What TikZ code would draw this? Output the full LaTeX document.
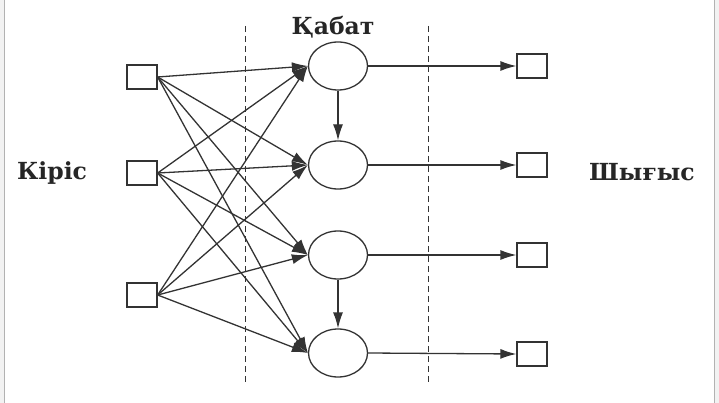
\documentclass[tikz,border=0pt]{standalone}
\usepackage{fontspec}
\setmainfont{DejaVu Serif}
\usetikzlibrary{arrows.meta,shapes.geometric,positioning}
\tikzset{%
	inbox/.style  = {draw, rectangle, minimum width=30pt, minimum height=24pt, inner sep=0pt},
	neuron/.style = {draw, ellipse, minimum width=59pt, minimum height=48pt, inner sep=0pt},
	arrow/.style  = {-{Latex[length=16pt,width=10pt]}},
	sep/.style    = {line width=0.9pt, dash pattern=on 6pt off 4pt},
	lbl/.style    = {font=\bfseries\fontsize{23.5}{23.5}\selectfont, inner sep=0pt, text=black!85},
}
\begin{document}
\begin{tikzpicture}[x=1pt,y=-1pt,line width=1.3pt,draw=black!80,color=black!80]
	\useasboundingbox (0,0) rectangle (719,403);
	% frame of the page
	\fill[black!5] (0,0) rectangle (4,403);
	\fill[black!5] (715,0) rectangle (719,403);
	\draw[black!30,line width=1pt] (4.5,0) -- (4.5,403);
	\draw[black!30,line width=1pt] (714.5,0) -- (714.5,403);
	
	\draw[sep] (245,26) -- (245,383);  % left border of layer
	\draw[sep] (428,26) -- (428,383);  % right border of layer
	
	\node[lbl] (kiris) at (52,173) {Кіріс};
	\node[lbl] (kabat) at (333,27) {Қабат};
	\node[lbl] (shygys) at (642,172) {Шығыс};
	
	% inputs
	\node[inbox] (i1) at (142,77) {};
	\node[inbox] (i2) at (142,173) {};
	\node[inbox] (i3) at (142,295) {};
	
	% hidden layer
	\node[neuron] (h1) at (338,66) {};
	\node[neuron] (h2) at (338,165) {};
	\node[neuron] (h3) at (338,255) {};
	\node[neuron] (h4) at (338,353) {};
	
	% outputs
	\node[inbox] (o1) at (532,66) {};
	\node[inbox] (o2) at (532,165) {};
	\node[inbox] (o3) at (532,255) {};
	\node[inbox] (o4) at (532,354) {};
	
	\foreach \i in {1,2,3}
		\foreach \h in {1,...,4}
			\draw[arrow] (i\i.east) -- (h\h.west);
	
	\draw[arrow] (h1) -- (h2);
	\draw[arrow] (h3) -- (h4);
	
	\foreach \h in {1,...,4}
		\draw[arrow] (h\h.east) -- (o\h.west);
	
\end{tikzpicture}
\end{document}
